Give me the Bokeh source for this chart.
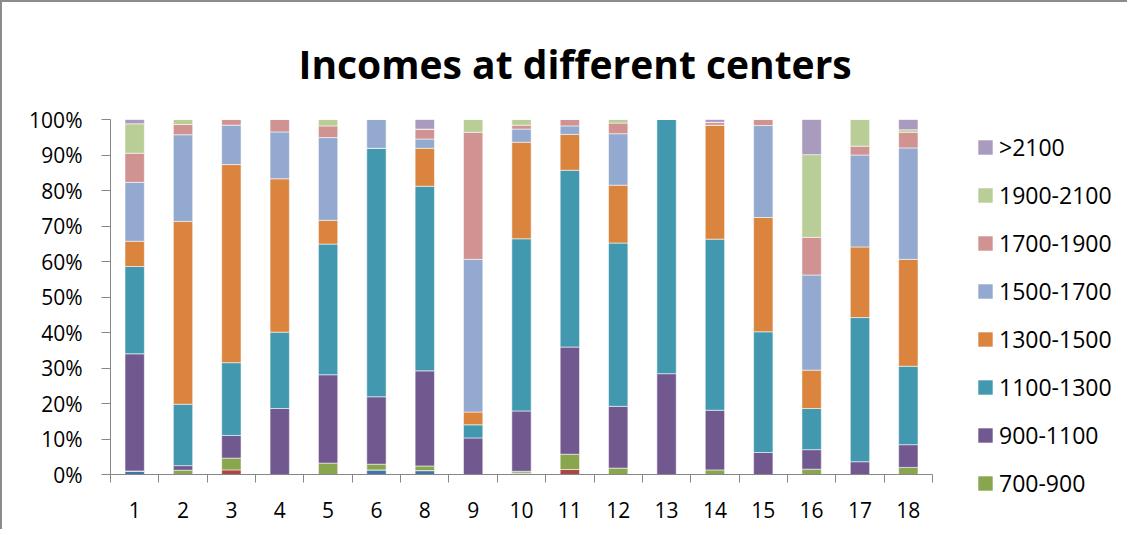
from bokeh.plotting import figure
from bokeh.layouts import row
from bokeh.models import (Range1d, FixedTicker, CustomJSTickFormatter, Legend, LegendItem,
                          PrintfTickFormatter)
from bokeh.embed import file_html
from bokeh.resources import INLINE

categories = ["1", "2", "3", "4", "5", "6", "8", "9", "10", "11", "12", "13", "14", "15", "16", "17", "18"]
series = ["<500", "500-700", "700-900", "900-1100", "1100-1300", "1300-1500",
          "1500-1700", "1700-1900", "1900-2100", ">2100"]
colors = ["#4572A7", "#AA4643", "#89A54E", "#71588F", "#4198AF", "#DB843D",
          "#93A9CF", "#D19392", "#B9CD96", "#A99BBD"]
legend_series = [">2100", "1900-2100", "1700-1900", "1500-1700",
                 "1300-1500", "1100-1300", "900-1100", "700-900"]

# percentage of each income band per center (bottom to top)
lt500     = [1.0, 0.0, 0.0, 0.0, 0.0, 1.3, 1.1, 0.0, 0.4, 0.0, 0.0, 0.0, 0.0, 0.0, 0.0, 0.0, 0.0]
b500_700  = [0.0, 0.0, 1.3, 0.0, 0.0, 0.0, 0.0, 0.0, 0.0, 1.4, 0.0, 0.0, 0.0, 0.0, 0.0, 0.0, 0.0]
b700_900  = [0.0, 1.2, 3.3, 0.0, 3.2, 1.6, 1.3, 0.0, 0.5, 4.3, 1.8, 0.0, 1.3, 0.0, 1.5, 0.0, 2.0]
b900_1100 = [33.0, 1.3, 6.4, 18.6, 24.9, 19.0, 26.8, 10.3, 17.0, 30.2, 17.4, 28.4, 16.8, 6.2, 5.5, 3.6, 6.4]
b1100_1300 = [24.6, 17.3, 20.5, 21.5, 36.8, 70.0, 52.0, 3.7, 48.5, 49.8, 46.0, 71.6, 48.2, 34.0, 11.6, 40.6, 22.1]
b1300_1500 = [7.1, 51.5, 55.8, 43.2, 6.7, 0.0, 10.7, 3.6, 27.2, 10.1, 16.3, 0.0, 32.1, 32.2, 10.8, 19.9, 30.1]
b1500_1700 = [16.6, 24.4, 11.1, 13.2, 23.3, 8.1, 2.6, 43.0, 3.7, 2.4, 14.5, 0.0, 0.0, 25.9, 26.8, 25.9, 31.4]
b1700_1900 = [8.2, 2.9, 1.6, 3.5, 3.3, 0.0, 2.8, 35.8, 1.1, 1.8, 3.0, 0.0, 0.8, 1.7, 10.6, 2.5, 4.4]
b1900_2100 = [8.3, 1.4, 0.0, 0.0, 1.8, 0.0, 0.0, 3.6, 1.6, 0.0, 1.0, 0.0, 0.0, 0.0, 23.3, 7.5, 0.7]
gt2100    = [1.2, 0.0, 0.0, 0.0, 0.0, 0.0, 2.7, 0.0, 0.0, 0.0, 0.0, 0.0, 0.8, 0.0, 9.9, 0.0, 2.9]

values = [lt500, b500_700, b700_900, b900_1100, b1100_1300, b1300_1500,
          b1500_1700, b1700_1900, b1900_2100, gt2100]
y_ticks = [0, 10, 20, 30, 40, 50, 60, 70, 80, 90, 100]

FONT = "Open Sans"
GRAY = "#868686"

data = {"x": [i + 0.5 for i in range(len(categories))]}
for name, vals in zip(series, values):
    data[name] = vals

p = figure(width=945, height=527, output_backend="svg", toolbar_location=None,
           x_range=Range1d(0, len(categories)), y_range=Range1d(0, 100),
           min_border_left=108, min_border_top=117, min_border_bottom=55, min_border_right=15)
p.outline_line_color = None
p.xgrid.visible = False
p.ygrid.visible = False
p.background_fill_color = "white"
p.border_fill_color = "white"

p.title.text = "Incomes at different centers"
p.title.align = "left"
p.title.offset = 188
p.title.standoff = 60
p.title.text_font = FONT
p.title.text_font_style = "bold"
p.title.text_font_size = "39px"
p.title.text_color = "#000000"

renderers = p.vbar_stack(series, x="x", width=0.4, source=data, color=colors,
                         line_color="white", line_alpha=0.55, line_width=1)

# y axis
ya = p.yaxis[0]
ya.ticker = FixedTicker(ticks=y_ticks, minor_ticks=[])
ya.formatter = PrintfTickFormatter(format="%d%%")
ya.axis_line_color = GRAY
ya.major_tick_line_color = GRAY
ya.major_tick_out = 9
ya.major_tick_in = 0
ya.minor_tick_line_color = None
ya.major_label_text_font = FONT
ya.major_label_text_font_size = "21px"
ya.major_label_text_color = "#000000"
ya.major_label_standoff = 19

# x axis
xa = p.xaxis[0]
xa.ticker = FixedTicker(ticks=[i + 0.5 for i in range(len(categories))],
                        minor_ticks=list(range(len(categories) + 1)))
xa.formatter = CustomJSTickFormatter(args=dict(labels=categories),
                                     code="return labels[Math.floor(tick)];")
xa.axis_line_color = GRAY
xa.major_tick_line_color = None
xa.major_tick_out = 0
xa.major_tick_in = 0
xa.minor_tick_line_color = GRAY
xa.minor_tick_out = 8
xa.minor_tick_in = 0
xa.major_label_text_font = FONT
xa.major_label_text_font_size = "21px"
xa.major_label_text_color = "#000000"
xa.major_label_standoff = 19

# legend panel (a second canvas to the right of the chart); its stacks lie outside its range
leg = figure(width=180, height=527, output_backend="svg", toolbar_location=None,
             x_range=Range1d(-10, -9), y_range=Range1d(0, 100), x_axis_type=None, y_axis_type=None,
             min_border=0)
leg.outline_line_color = None
leg.xgrid.visible = False
leg.ygrid.visible = False
leg.background_fill_color = "white"
leg.border_fill_color = "white"
for fig in (p, leg):
    if "frame_align" in fig.properties():
        fig.frame_align = False

leg_renderers = leg.vbar_stack(series, x="x", width=0.4, source=data, color=colors, line_color=None)

items = []
for name in legend_series:
    items.append(LegendItem(label=name, renderers=[leg_renderers[series.index(name)]]))
legend = Legend(items=items, location=(29, 30), orientation="vertical",
                glyph_width=18, glyph_height=18, label_height=20, spacing=16,
                label_standoff=5, padding=0, margin=0, border_line_color=None,
                background_fill_alpha=0, label_text_font=FONT,
                label_text_font_size="23px", label_text_color="#000000")
leg.add_layout(legend, "center")

layout = row(p, leg, styles={"border-top": "2px solid #8c8c8c", "border-left": "2px solid #8c8c8c"})

open("out.html", "w").write(file_html(layout, INLINE))
